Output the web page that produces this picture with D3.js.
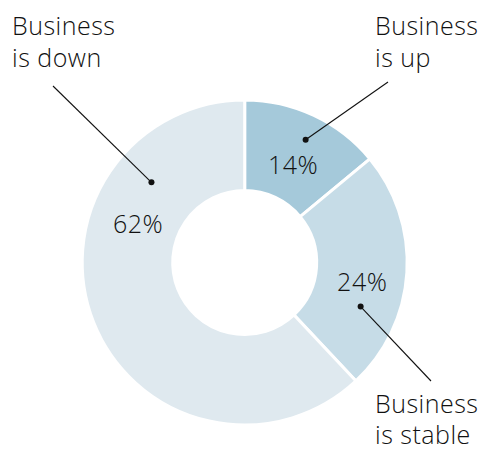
<!DOCTYPE html>
<html>
<head>
<meta charset="utf-8">
<script src="https://cdn.jsdelivr.net/npm/d3@7/dist/d3.min.js"></script>
<style>
  html, body { margin: 0; padding: 0; background: #ffffff; }
  svg { display: block; }
  text { font-family: "Open Sans", Lato, "DejaVu Sans", sans-serif; font-weight: 300; fill: #111; letter-spacing: 0.5px; }
</style>
</head>
<body>
<svg id="chart" width="483" height="452"></svg>
<script>
// Survey answers: share of respondents per outcome
const categories = ["Business is up", "Business is stable", "Business is down"];
const shares = [14, 24, 62];
const labelLines = [["Business", "is up"], ["Business", "is stable"], ["Business", "is down"]];
const sliceColors = ["#a5c9da", "#c6dce7", "#dfe9ef"];

// Placement of value labels and callout pointers (polar, degrees clockwise from 12 o'clock)
const valuePos = [{a: 26.2, r: 109.5}, {a: 99, r: 119}, {a: 290.1, r: 113.6}];
const dotPos = [{a: 26.4, r: 137}, {a: 110.8, r: 124}, {a: 310.7, r: 123}];
const legendPos = [
  {x: 375, y: 35, gap: 32, lx: 388, ly: 82},
  {x: 375, y: 413, gap: 31, lx: 431, ly: 381},
  {x: 12, y: 35, gap: 32, lx: 53, ly: 86}
];

const width = 483, height = 452;
const cx = 244.7, cy = 262.5;
const outerR = 162.5, innerR = 72;

const svg = d3.select("#chart");
const g = svg.append("g").attr("transform", `translate(${cx},${cy})`);

const pie = d3.pie().sort(null).value(d => d)(shares);
const arc = d3.arc().innerRadius(innerR).outerRadius(outerR);

g.selectAll("path.slice")
  .data(pie)
  .join("path")
  .attr("class", "slice")
  .attr("d", arc)
  .attr("fill", (d, i) => sliceColors[i])
  .attr("stroke", "#ffffff")
  .attr("stroke-width", 3)
  .attr("stroke-linejoin", "miter");

const polar = p => {
  const t = p.a * Math.PI / 180;
  return [p.r * Math.sin(t), -p.r * Math.cos(t)];
};

// percentage labels
g.selectAll("text.value")
  .data(pie)
  .join("text")
  .attr("class", "value")
  .attr("text-anchor", "middle")
  .attr("dominant-baseline", "central")
  .attr("font-size", 25)
  .attr("x", (d, i) => polar(valuePos[i])[0])
  .attr("y", (d, i) => polar(valuePos[i])[1])
  .text(d => d.data + "%");

// callout lines, dots and two-line category labels
categories.forEach((c, i) => {
  const [dx, dy] = polar(dotPos[i]);
  const L = legendPos[i];
  svg.append("line")
    .attr("x1", cx + dx).attr("y1", cy + dy)
    .attr("x2", L.lx).attr("y2", L.ly)
    .attr("stroke", "#111").attr("stroke-width", 1.1);
  svg.append("circle")
    .attr("cx", cx + dx).attr("cy", cy + dy)
    .attr("r", 3).attr("fill", "#111");
  labelLines[i].forEach((ln, k) => {
    svg.append("text")
      .attr("x", L.x)
      .attr("y", L.y + k * L.gap)
      .attr("font-size", 25)
      .text(ln);
  });
});
</script>
</body>
</html>
